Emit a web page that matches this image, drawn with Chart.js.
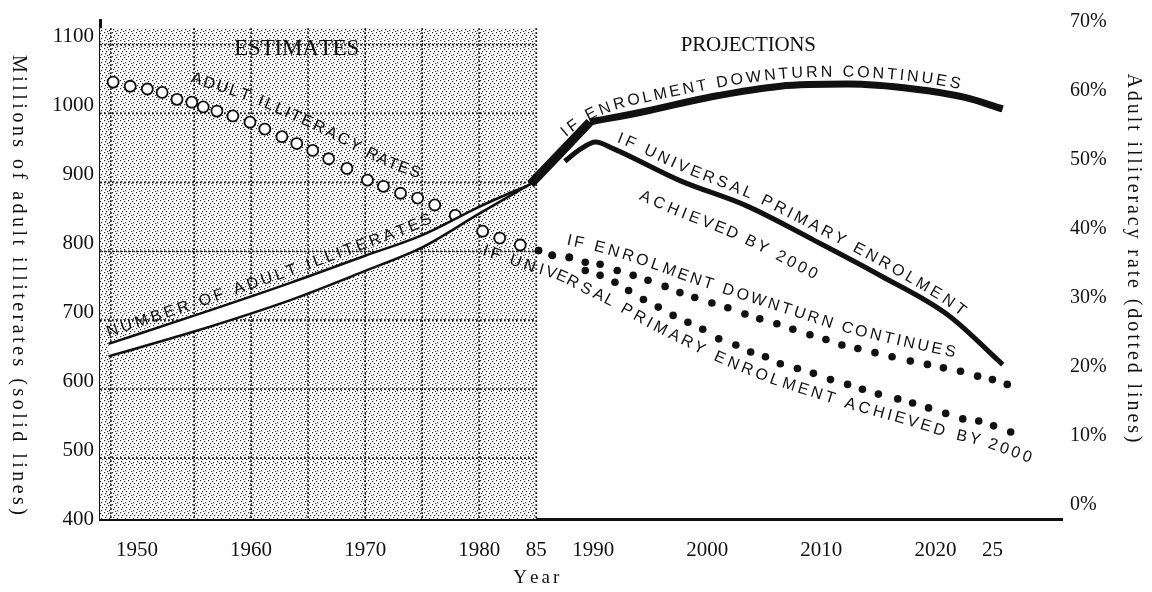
<!DOCTYPE html>
<html>
<head>
<meta charset="utf-8">
<title>Adult illiteracy: estimates and projections</title>
<script src="https://cdn.jsdelivr.net/npm/chart.js@4.4.1/dist/chart.umd.min.js"></script>
<style>
    html, body { margin: 0; padding: 0; background: #fff; }
    #wrap { width: 1152px; height: 592px; }
</style>
</head>
<body>
<div id="wrap"><canvas id="chart" width="1152" height="592"></canvas></div>
<script>
(function () {
    'use strict';

    // Axis ticks
    var YEAR_TICKS = [1950, 1960, 1970, 1980, 1985, 1990, 2000, 2010, 2020, 2025];
    var YEAR_LABELS = ['1950', '1960', '1970', '1980', '85', '1990', '2000', '2010', '2020', '25'];
    var MILLION_TICKS = [400, 500, 600, 700, 800, 900, 1000, 1100];
    var RATE_TICKS = [0, 10, 20, 30, 40, 50, 60, 70];

    // Number of adult illiterates (millions), estimates: two edges of the band
    var BAND_YEARS = [1947.5, 1955, 1963.5, 1970, 1975, 1980, 1984.5];
    var ILLITERATES_LOW = [636, 672, 718, 760, 794, 843, 886];
    var ILLITERATES_HIGH = [654, 695, 743, 782, 812, 853, 886];

    // Shared jump 1985-1990
    var JUMP_YEARS = [1984.5, 1989.7];
    var JUMP_VALUES = [886, 976];

    // Projections (millions)
    var DOWNTURN_YEARS = [1989.7, 1994.7, 2000.5, 2006.4, 2012.3, 2018.1, 2022.5, 2025.9];
    var DOWNTURN_VALUES = [976, 992, 1013, 1028, 1031, 1024, 1012, 995];
    var UPE_YEARS = [1987.5, 1988.9, 1990.2, 1991.8, 1997.6, 2003.5, 2009.3, 2015.2, 2021.1, 2025.9];
    var UPE_VALUES = [919, 937, 947, 937, 891, 854, 805, 753, 696, 624];

    // Adult illiteracy rates (%), estimates (open circles)
    var RATE_EST_YEARS = [1947.9, 1949.4, 1950.9, 1952.2, 1953.5, 1954.8, 1955.8, 1957.0, 1958.4,
        1959.9, 1961.2, 1962.7, 1964.0, 1965.4, 1966.8, 1968.4, 1970.2, 1971.6, 1973.1, 1974.6,
        1976.1, 1977.9, 1980.3, 1981.8, 1983.6];
    var RATE_EST = [61.3, 60.7, 60.3, 59.8, 58.8, 58.4, 57.7, 57.1, 56.4, 55.5, 54.5, 53.4, 52.4,
        51.4, 50.2, 48.8, 47.1, 46.2, 45.2, 44.5, 43.5, 42.0, 39.7, 38.7, 37.7];

    // Rate projections (%), filled dots
    var DOWNTURN_RATE_YEARS = [1985.2, 1986.4, 1987.9, 1989.3, 1990.6, 1992.1, 1993.5, 1994.8, 1996.3,
        1997.6, 1998.9, 2000.4, 2001.8, 2003.3, 2004.6, 2006.1, 2007.5, 2009.0, 2010.4, 2011.8,
        2013.2, 2014.7, 2016.2, 2017.8, 2019.3, 2020.7, 2022.2, 2023.7, 2025.0, 2026.3];
    var DOWNTURN_RATES = [36.9, 36.2, 35.9, 35.2, 34.9, 34.0, 33.3, 32.6, 31.7, 30.8, 30.1, 29.3,
        28.6, 27.7, 27.0, 26.3, 25.5, 24.7, 24.0, 23.2, 22.7, 22.1, 21.5, 20.9, 20.4, 19.9, 19.4,
        18.7, 18.2, 17.5];
    var UPE_RATE_YEARS = [1985.2, 1986.4, 1987.9, 1989.3, 1990.6, 1991.9, 1993.1, 1994.4, 1995.7,
        1997.0, 1998.3, 1999.6, 2001.0, 2002.5, 2003.8, 2005.1, 2006.4, 2007.9, 2009.3, 2010.8,
        2012.3, 2013.6, 2015.0, 2016.7, 2018.0, 2019.4, 2020.9, 2022.4, 2023.8, 2025.1, 2026.6];
    var UPE_RATES = [36.9, 36.2, 35.9, 34.0, 33.3, 32.3, 31.1, 29.8, 28.7, 27.5, 26.5, 25.5, 24.1,
        23.2, 22.2, 21.5, 20.5, 19.8, 19.1, 18.2, 17.5, 16.8, 16.1, 15.4, 14.8, 14.1, 13.3, 12.5,
        12.2, 11.5, 10.6];

    // Shaded "estimates" block
    var ESTIMATE_END = 1985;
    var SHADE_TOP = 1112;
    var SHADE_GRID_YEARS = [1947.7, 1955, 1960, 1965, 1970, 1975, 1980, 1985];
    var SHADE_GRID_VALUES = [500, 600, 700, 800, 900, 1000, 1100];

    var SERIF = '"Liberation Serif", "DejaVu Serif", serif';
    var SANS = '"Liberation Sans", Arial, sans-serif';
    var INK = '#111';

    function pairs(xs, ys) {
        return xs.map(function (x, i) { return { x: x, y: ys[i] }; });
    }

    function metaPoints(chart, index) {
        return chart.getDatasetMeta(index).data.map(function (el) { return { x: el.x, y: el.y }; });
    }

    // Draw text letter by letter along a polyline; offset > 0 puts it above the path.
    function textAlong(ctx, text, pts, start, offset, span, win) {
        var cum = [0];
        win = win || 18;
        for (var i = 1; i < pts.length; i++) {
            cum.push(cum[i - 1] + Math.hypot(pts[i].x - pts[i - 1].x, pts[i].y - pts[i - 1].y));
        }
        function at(d) {
            var j = 1;
            while (j < pts.length - 1 && cum[j] < d) j++;
            var a = pts[j - 1], b = pts[j];
            var t = (d - cum[j - 1]) / ((cum[j] - cum[j - 1]) || 1);
            return { x: a.x + (b.x - a.x) * t, y: a.y + (b.y - a.y) * t };
        }
        var chars = text.split('');
        var widths = chars.map(function (c) { return ctx.measureText(c).width; });
        var total = widths.reduce(function (s, w) { return s + w; }, 0);
        var gap = span ? (span - total) / (chars.length - 1) : 0;
        var s = start;
        ctx.textAlign = 'center';
        ctx.textBaseline = 'middle';
        chars.forEach(function (c, k) {
            var mid = s + widths[k] / 2;
            var p0 = at(mid - win), p1 = at(mid + win);
            var p = { x: (p0.x + p1.x + 2 * at(mid).x) / 4, y: (p0.y + p1.y + 2 * at(mid).y) / 4 };
            var ang = Math.atan2(p1.y - p0.y, p1.x - p0.x);
            ctx.save();
            ctx.translate(p.x + Math.sin(ang) * offset, p.y - Math.cos(ang) * offset);
            ctx.rotate(ang);
            ctx.fillText(c, 0, 0);
            ctx.restore();
            s += widths[k] + gap;
        });
    }

    function spacedText(ctx, text, cx, cy, span, vertical) {
        var pts = vertical
            ? [{ x: cx, y: cy - span / 2 }, { x: cx, y: cy + span / 2 }]
            : [{ x: cx - span / 2, y: cy }, { x: cx + span / 2, y: cy }];
        textAlong(ctx, text, pts, 0, 0, span);
    }

    function makeStipple() {
        var tile = document.createElement('canvas');
        tile.width = 8;
        tile.height = 8;
        var t = tile.getContext('2d');
        t.fillStyle = '#fff';
        t.fillRect(0, 0, 8, 8);
        t.fillStyle = '#2a2a2a';
        [[0, 0], [4, 1], [2, 3], [6, 3], [1, 5], [5, 6], [3, 7]].forEach(function (p) {
            t.fillRect(p[0], p[1], 1.2, 1.2);
        });
        return tile;
    }

    var shadePlugin = {
        id: 'estimateShade',
        beforeDatasetsDraw: function (chart) {
            var ctx = chart.ctx, x = chart.scales.x, y = chart.scales.y, area = chart.chartArea;
            var L = area.left, R = x.getPixelForValue(ESTIMATE_END);
            var T = y.getPixelForValue(SHADE_TOP), B = area.bottom;
            ctx.save();
            ctx.fillStyle = ctx.createPattern(makeStipple(), 'repeat');
            ctx.fillRect(L, T, R - L, B - T);
            ctx.strokeStyle = '#1a1a1a';
            ctx.lineWidth = 1.8;
            ctx.setLineDash([1.8, 2.2]);
            ctx.beginPath();
            SHADE_GRID_YEARS.forEach(function (yr) {
                var px = x.getPixelForValue(yr);
                ctx.moveTo(px, T);
                ctx.lineTo(px, B);
            });
            SHADE_GRID_VALUES.forEach(function (v) {
                var py = y.getPixelForValue(v) + 8;
                ctx.moveTo(L, py);
                ctx.lineTo(R, py);
            });
            ctx.stroke();
            ctx.restore();
        },
    };

    var labelPlugin = {
        id: 'curveLabels',
        afterDraw: function (chart) {
            var ctx = chart.ctx, x = chart.scales.x, y = chart.scales.y;
            ctx.save();
            ctx.fillStyle = INK;

            ctx.font = '23px ' + SERIF;
            spacedText(ctx, 'ESTIMATES', x.getPixelForValue(1964), y.getPixelForValue(1082), 125);
            ctx.font = '21px ' + SERIF;
            spacedText(ctx, 'PROJECTIONS', x.getPixelForValue(2003.6), y.getPixelForValue(1087), 135);

            ctx.font = '16px ' + SANS;
            var upperSolid = metaPoints(chart, 2).concat(metaPoints(chart, 3).slice(1));
            textAlong(ctx, 'ADULT ILLITERACY RATES', metaPoints(chart, 5), 74, 24, 248);
            textAlong(ctx, 'NUMBER OF ADULT ILLITERATES', metaPoints(chart, 1), 2, 11, 345);
            textAlong(ctx, 'IF ENROLMENT DOWNTURN CONTINUES', upperSolid, 58, 13, 400, 40);
            textAlong(ctx, 'IF UNIVERSAL PRIMARY ENROLMENT', metaPoints(chart, 4), 56, 13, 385, 24);
            textAlong(ctx, 'ACHIEVED BY 2000', metaPoints(chart, 4), 100, -30, 195, 24);
            textAlong(ctx, 'IF ENROLMENT DOWNTURN CONTINUES', metaPoints(chart, 6), 26, 17, 405);
            textAlong(ctx, 'IF UNIVERSAL PRIMARY ENROLMENT ACHIEVED BY 2000', metaPoints(chart, 7), -52, -18, 590);

            // Axis titles
            ctx.font = '20px ' + SERIF;
            spacedText(ctx, 'Millions of adult illiterates (solid lines)', 18, 285, 460, true);
            spacedText(ctx, 'Adult illiteracy rate (dotted lines)', 1133, 258, 369, true);
            ctx.font = '19px ' + SERIF;
            spacedText(ctx, 'Year', x.getPixelForValue(1985), 578, 46);
            ctx.restore();
        },
    };

    function solid(data, width, extra) {
        var ds = {
            data: data,
            yAxisID: 'y',
            borderColor: INK,
            borderWidth: width,
            pointRadius: 0,
            cubicInterpolationMode: 'monotone',
            fill: false,
        };
        return Object.assign(ds, extra || {});
    }

    function dotted(data, radius, open) {
        return {
            data: data,
            yAxisID: 'y1',
            showLine: false,
            pointStyle: 'circle',
            pointRadius: radius,
            pointBorderWidth: open ? 1.8 : 0,
            pointBorderColor: INK,
            pointBackgroundColor: open ? '#fff' : INK,
        };
    }

    var canvas = document.getElementById('chart');
    new Chart(canvas, {
        type: 'line',
        data: {
            datasets: [
                solid(pairs(BAND_YEARS, ILLITERATES_LOW), 2.5),
                solid(pairs(BAND_YEARS, ILLITERATES_HIGH), 2.5, { fill: '-1', backgroundColor: '#fff' }),
                solid(pairs(JUMP_YEARS, JUMP_VALUES), 9),
                solid(pairs(DOWNTURN_YEARS, DOWNTURN_VALUES), 7),
                solid(pairs(UPE_YEARS, UPE_VALUES), 5),
                dotted(pairs(RATE_EST_YEARS, RATE_EST), 5.5, true),
                dotted(pairs(DOWNTURN_RATE_YEARS, DOWNTURN_RATES), 3.8, false),
                dotted(pairs(UPE_RATE_YEARS, UPE_RATES), 3.8, false),
            ],
        },
        options: {
            responsive: false,
            animation: false,
            layout: { padding: { top: 15, left: 0, right: 0, bottom: 0 } },
            plugins: {
                legend: { display: false },
                tooltip: { enabled: false },
            },
            scales: {
                x: {
                    type: 'linear',
                    position: 'bottom',
                    min: 1946.75,
                    max: 2031.1,
                    grid: { display: false, drawTicks: false },
                    border: { display: true, color: INK, width: 3 },
                    ticks: {
                        autoSkip: false,
                        maxRotation: 0,
                        padding: 19,
                        color: INK,
                        font: { family: SERIF, size: 21 },
                        callback: function (v) {
                            var i = YEAR_TICKS.indexOf(v);
                            return i < 0 ? '' : YEAR_LABELS[i];
                        },
                    },
                    afterBuildTicks: function (s) {
                        s.ticks = YEAR_TICKS.map(function (v) { return { value: v }; });
                    },
                    afterFit: function (s) { s.height = 73; },
                },
                y: {
                    position: 'left',
                    min: 400,
                    max: 1124,
                    grid: { display: false, drawTicks: false },
                    border: { display: true, color: INK, width: 3 },
                    ticks: {
                        padding: 6,
                        color: INK,
                        font: { family: SERIF, size: 21 },
                        callback: function (v) { return String(v); },
                    },
                    afterBuildTicks: function (s) {
                        s.ticks = MILLION_TICKS.map(function (v) { return { value: v }; });
                    },
                    afterFit: function (s) { s.width = 100; },
                },
                y1: {
                    position: 'right',
                    min: -2.0,
                    max: 70.3,
                    grid: { display: false, drawTicks: false },
                    border: { display: false },
                    ticks: {
                        padding: 8,
                        color: INK,
                        font: { family: SERIF, size: 20 },
                        callback: function (v) { return v + '%'; },
                    },
                    afterBuildTicks: function (s) {
                        s.ticks = RATE_TICKS.map(function (v) { return { value: v }; });
                    },
                    afterFit: function (s) { s.width = 90; },
                },
            },
        },
        plugins: [shadePlugin, labelPlugin],
    });
})();
</script>
</body>
</html>
